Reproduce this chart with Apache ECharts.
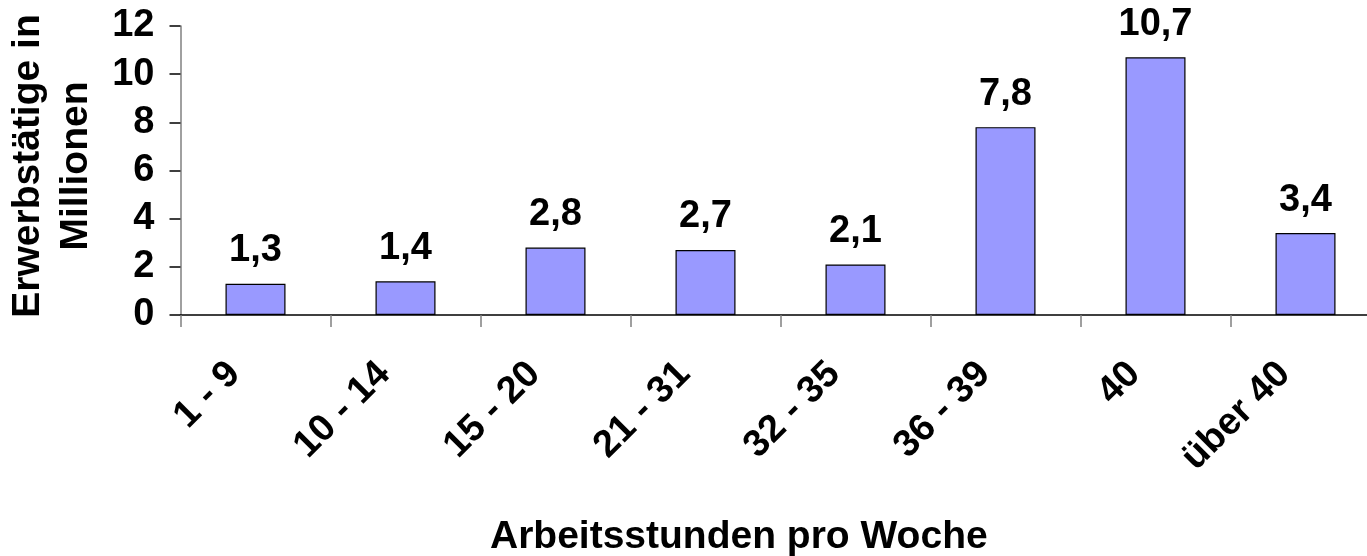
<!DOCTYPE html>
<html>
<head>
<meta charset="utf-8">
<script src="https://cdn.jsdelivr.net/npm/echarts@6/dist/echarts.min.js"></script>
<style>
  html, body { margin: 0; padding: 0; background: #fff; }
  #chart { width: 1367px; height: 556px; }
</style>
</head>
<body>
<div id="chart"></div>
<script>
// Weekly working hours (categories) and employed persons in millions
const categories = ['1 - 9', '10 - 14', '15 - 20', '21 - 31', '32 - 35', '36 - 39', '40', 'über 40'];
const employedMillions = [1.3, 1.4, 2.8, 2.7, 2.1, 7.8, 10.7, 3.4];
const yTicks = [0, 2, 4, 6, 8, 10, 12];
const xTitle = 'Arbeitsstunden pro Woche';
const yTitle = 'Erwerbstätige in\nMillionen';

const FONT = '"Liberation Sans", Arial, sans-serif';
const FS = 38;
const chart = echarts.init(document.getElementById('chart'), null, { renderer: 'canvas' });

chart.setOption({
  animation: false,
  backgroundColor: '#ffffff',
  textStyle: { fontFamily: FONT },
  grid: { left: 180.5, top: 26, width: 1200, height: 289, containLabel: false, outerBoundsMode: 'none' },
  xAxis: {
    type: 'category',
    data: categories,
    axisLine: { lineStyle: { color: '#000', width: 1.5 } },
    axisTick: { show: true, alignWithLabel: false, length: 12, lineStyle: { color: '#808080', width: 1.5 } },
    axisLabel: {
      interval: 0, rotate: 45, margin: 32,
      padding: [0, 30, 0, 0],
      fontFamily: FONT, fontWeight: 'bold', fontSize: FS, color: '#000'
    },
    splitLine: { show: false }
  },
  yAxis: {
    type: 'value',
    min: yTicks[0],
    max: yTicks[yTicks.length - 1],
    interval: 2,
    axisLine: { show: true, lineStyle: { color: '#808080', width: 1.5 } },
    axisTick: { show: true, length: 11, lineStyle: { color: '#000', width: 1.5 } },
    axisLabel: { margin: 26, fontFamily: FONT, fontWeight: 'bold', fontSize: FS, color: '#000' },
    splitLine: { show: false }
  },
  // Axis titles
  graphic: [
    {
      type: 'text',
      x: 490, y: 537,
      style: {
        text: xTitle, fill: '#000',
        font: 'bold 39px ' + FONT,
        align: 'left', verticalAlign: 'middle'
      }
    },
    {
      type: 'text',
      x: 52, y: 166,
      rotation: Math.PI / 2,
      style: {
        text: yTitle, fill: '#000',
        font: 'bold 39px ' + FONT,
        lineHeight: 48,
        align: 'center', verticalAlign: 'middle'
      }
    }
  ],
  series: [{
    type: 'bar',
    data: employedMillions,
    barWidth: 60,
    itemStyle: { color: '#9999FF', borderColor: '#000', borderWidth: 1.2 },
    label: {
      show: true,
      position: 'top',
      distance: 14,
      fontFamily: FONT, fontWeight: 'bold', fontSize: FS, color: '#000',
      formatter: p => String(p.value).replace('.', ',')
    }
  }]
});
</script>
</body>
</html>
